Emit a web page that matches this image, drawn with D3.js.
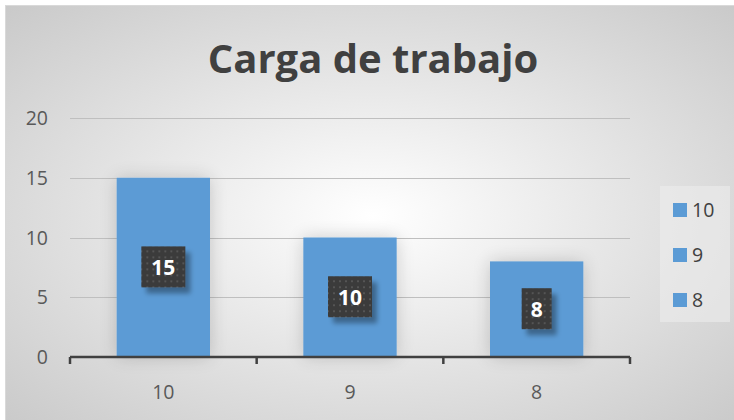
<!DOCTYPE html>
<html>
<head>
<meta charset="utf-8">
<script src="https://cdn.jsdelivr.net/npm/d3@7"></script>
<style>
  body { margin: 0; background: #fff; }
  svg { display: block; font-family: "Open Sans", "Noto Sans", sans-serif; }
</style>
</head>
<body>
<div id="chart"></div>
<script>
var width = 734, height = 420;

// data
var categories = ["10", "9", "8"];
var values = [15, 10, 8];
var yTicks = [0, 5, 10, 15, 20];
var title = "Carga de trabajo";

var margin = { top: 118, right: 104, bottom: 63, left: 70 };

var svg = d3.select("#chart").append("svg")
  .attr("width", width)
  .attr("height", height);

var defs = svg.append("defs");

var bg = defs.append("radialGradient").attr("id", "bg")
  .attr("cx", "50%").attr("cy", "50%").attr("r", "75%");
bg.append("stop").attr("offset", "0%").attr("stop-color", "#ffffff");
bg.append("stop").attr("offset", "100%").attr("stop-color", "#c6c6c6");

var glow = defs.append("filter").attr("id", "glow")
  .attr("x", "-30%").attr("y", "-30%").attr("width", "160%").attr("height", "160%");
glow.append("feGaussianBlur").attr("in", "SourceAlpha").attr("stdDeviation", 9).attr("result", "b");
glow.append("feComponentTransfer").attr("in", "b").attr("result", "c")
  .append("feFuncA").attr("type", "linear").attr("slope", 0.18);
var gm = glow.append("feMerge");
gm.append("feMergeNode").attr("in", "c");
gm.append("feMergeNode").attr("in", "SourceGraphic");

var shadow = defs.append("filter").attr("id", "lblshadow")
  .attr("x", "-30%").attr("y", "-30%").attr("width", "180%").attr("height", "180%");
shadow.append("feOffset").attr("in", "SourceAlpha").attr("dx", 5).attr("dy", 6).attr("result", "o");
shadow.append("feGaussianBlur").attr("in", "o").attr("stdDeviation", 2.5).attr("result", "b");
shadow.append("feComponentTransfer").attr("in", "b").attr("result", "c")
  .append("feFuncA").attr("type", "linear").attr("slope", 0.35);
var sm = shadow.append("feMerge");
sm.append("feMergeNode").attr("in", "c");
sm.append("feMergeNode").attr("in", "SourceGraphic");

var pat = defs.append("pattern").attr("id", "dots")
  .attr("patternUnits", "userSpaceOnUse").attr("width", 6).attr("height", 6);
pat.append("rect").attr("width", 6).attr("height", 6).attr("fill", "#3a3a3a");
pat.append("rect").attr("x", 1).attr("y", 1).attr("width", 2).attr("height", 2).attr("fill", "#555");

// background panel
svg.append("rect").attr("x", 0).attr("y", 0).attr("width", width).attr("height", height).attr("fill", "#fff");
svg.append("rect")
  .attr("x", 5.5).attr("y", 5.5).attr("width", width).attr("height", height)
  .attr("fill", "url(#bg)").attr("stroke", "#d9d9d9");

svg.append("text")
  .attr("x", 373).attr("y", 73)
  .attr("text-anchor", "middle")
  .attr("font-size", 40).attr("font-weight", "bold")
  .attr("fill", "#404040")
  .text(title);

var x = d3.scaleBand()
  .domain(categories)
  .range([margin.left, width - margin.right])
  .paddingInner(0.5).paddingOuter(0.25);

var y = d3.scaleLinear()
  .domain([0, 20])
  .range([height - margin.bottom, margin.top]);

// gridlines
svg.append("g")
  .selectAll("line").data(yTicks.slice(1)).enter().append("line")
  .attr("x1", margin.left).attr("x2", width - margin.right)
  .attr("y1", function(d) { return Math.round(y(d)) + 0.5; })
  .attr("y2", function(d) { return Math.round(y(d)) + 0.5; })
  .attr("stroke", "#bfbfbf").attr("stroke-width", 1);

// y labels
svg.append("g")
  .selectAll("text").data(yTicks).enter().append("text")
  .attr("x", 48).attr("y", function(d) { return y(d) + 7; })
  .attr("text-anchor", "end")
  .attr("font-size", 19.5).attr("fill", "#595959")
  .text(function(d) { return d; });

// bars
svg.append("g")
  .selectAll("rect").data(values).enter().append("rect")
  .attr("x", function(d, i) { return x(categories[i]); })
  .attr("y", function(d) { return y(d); })
  .attr("width", x.bandwidth())
  .attr("height", function(d) { return y(0) - y(d); })
  .attr("fill", "#5b9bd5")
  .attr("filter", "url(#glow)");

// x axis
var step = x.step();
var ax = svg.append("g")
  .attr("transform", "translate(0," + (y(0)) + ")");
ax.append("line")
  .attr("x1", margin.left).attr("x2", width - margin.right)
  .attr("y1", 0).attr("y2", 0)
  .attr("stroke", "#404040").attr("stroke-width", 2.5);
var edges = d3.range(categories.length + 1).map(function(i) { return margin.left + i * step; });
ax.selectAll(".tk").data(edges).enter().append("line")
  .attr("x1", function(d) { return d; }).attr("x2", function(d) { return d; })
  .attr("y1", 0).attr("y2", 7)
  .attr("stroke", "#404040").attr("stroke-width", 2.5);
ax.selectAll(".lb").data(categories).enter().append("text")
  .attr("x", function(d) { return x(d) + x.bandwidth() / 2; })
  .attr("y", 42)
  .attr("text-anchor", "middle")
  .attr("font-size", 19.5).attr("fill", "#595959")
  .text(function(d) { return d; });

// data labels
var lbl = svg.append("g").selectAll("g").data(values).enter().append("g")
  .attr("transform", function(d, i) {
    var cx = x(categories[i]) + x.bandwidth() / 2;
    var cy = (y(d) + y(0)) / 2;
    return "translate(" + cx + "," + cy + ")";
  });
lbl.append("rect")
  .attr("x", function(d) { return String(d).length > 1 ? -22 : -15; })
  .attr("y", -21)
  .attr("width", function(d) { return String(d).length > 1 ? 44 : 30; })
  .attr("height", 41)
  .attr("fill", "url(#dots)")
  .attr("filter", "url(#lblshadow)");
lbl.append("text")
  .attr("y", 8)
  .attr("text-anchor", "middle")
  .attr("font-size", 21).attr("font-weight", "bold")
  .attr("fill", "#fff")
  .text(function(d) { return d; });

// legend
var lg = svg.append("g");
lg.append("rect")
  .attr("x", 660).attr("y", 186).attr("width", 70).attr("height", 136)
  .attr("fill", "#ececec").attr("opacity", 0.6);
var items = lg.selectAll("g").data(categories).enter().append("g")
  .attr("transform", function(d, i) { return "translate(673," + (210 + i * 45) + ")"; });
items.append("rect")
  .attr("x", 0).attr("y", -7).attr("width", 14).attr("height", 14)
  .attr("fill", "#5b9bd5");
items.append("text")
  .attr("x", 19).attr("y", 7)
  .attr("font-size", 19.5).attr("fill", "#404040")
  .text(function(d) { return d; });
</script>
</body>
</html>
